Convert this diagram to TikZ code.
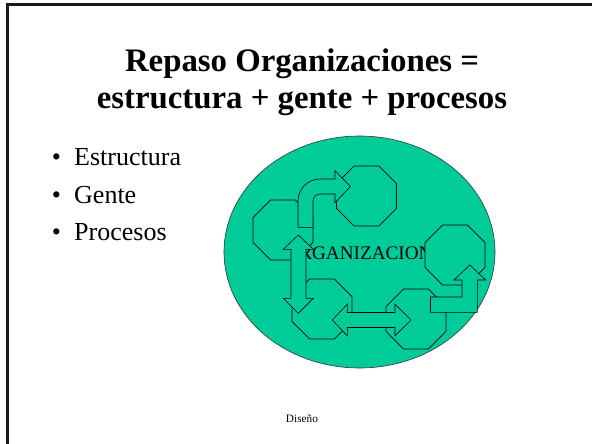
\documentclass[tikz,border=0pt]{standalone}
\usepackage{fontspec}
\setmainfont{Liberation Serif}
\usetikzlibrary{shapes.geometric}
\definecolor{orggreen}{RGB}{0,204,153}

\begin{document}
\begin{tikzpicture}[x=1pt, y=-1pt,
  every node/.style={inner sep=0pt},
  oct/.style={regular polygon, regular polygon sides=8, minimum size=64.9pt, draw=black, line width=0.6pt, fill=orggreen},
  blockarr/.style={draw=black, line width=0.6pt, fill=orggreen, line join=miter},
  item/.style={anchor=base west, font=\fontsize{26}{30}\selectfont},
  bul/.style={anchor=base, font=\fontsize{26}{30}\selectfont}]
  \useasboundingbox (0,0) rectangle (592,444);

  % Frame
  \draw[line width=2.5pt, black!90] (7.5,460) -- (7.5,4.7) -- (610,4.7);

  % Title
  \node[anchor=base, font=\bfseries\fontsize{32.8}{38}\selectfont] (title1) at (302,71) {Repaso Organizaciones =};
  \node[anchor=base, font=\bfseries\fontsize{32.8}{38}\selectfont] (title2) at (302,109) {estructura + gente + procesos};

  % Bullets
  \node[bul] (b1) at (56.5,165) {\textbullet};
  \node[item] (estructura) at (74,165) {Estructura};
  \node[bul] (b2) at (56.5,203) {\textbullet};
  \node[item] (gente) at (74,203) {Gente};
  \node[bul] (b3) at (56.5,240) {\textbullet};
  \node[item] (procesos) at (74,240) {Procesos};

  % Organization
  \node[ellipse, draw=black!80, line width=0.6pt, fill=orggreen, minimum width=271pt, minimum height=232pt] (org) at (359.5,252) {};
  \node[anchor=base, font=\fontsize{19.2}{23}\selectfont] (orgtext) at (359,259) {ORGANIZACION};

  % Octagons
  \node[oct] (top) at (366.5,196) {};
  \node[oct] (left) at (283,230) {};
  \node[oct] (right) at (455,255) {};
  \node[oct] (botleft) at (322,309) {};
  \node[oct] (botright) at (416,319) {};

  % Arrows
  \draw[blockarr] (298,227.3) -- (298,201) arc[start angle=180, end angle=270, radius=22] -- (335,179) -- (335,170.7) -- (350.5,186.5) -- (335,202.7) -- (335,194) -- (320,194) arc[start angle=270, end angle=180, radius=7] -- (313,227.3) -- cycle;
  \draw[blockarr] (298.3,235) -- (313.3,249.3) -- (306,249.3) -- (306,298.3) -- (313.3,298.3) -- (298.3,313.3) -- (283.3,298.3) -- (291,298.3) -- (291,249.3) -- (283.3,249.3) -- cycle;
  \draw[blockarr] (332.3,320) -- (347.3,304.2) -- (347.3,312.5) -- (395,312.5) -- (395,304.2) -- (411,320) -- (395,335.8) -- (395,327.5) -- (347.3,327.5) -- (347.3,335.8) -- cycle;
  \draw[blockarr] (430.5,297) -- (462,297) -- (462,280) -- (454,280) -- (469.8,265) -- (485.7,280) -- (477.3,280) -- (477.3,312.3) -- (430.5,312.3) -- cycle;

  % Footer
  \node[anchor=base, font=\fontsize{11.3}{13}\selectfont] (footer) at (302,422) {Diseño};
\end{tikzpicture}
\end{document}
